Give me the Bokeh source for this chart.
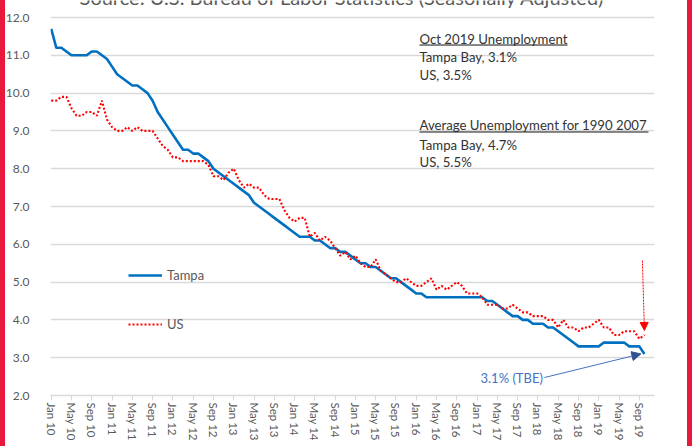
from bokeh.plotting import figure
from bokeh.models import (Range1d, FixedTicker, Label, Arrow, NormalHead, Legend,
                          LegendItem, NumeralTickFormatter, ColumnDataSource)
from bokeh.embed import file_html
from bokeh.resources import INLINE

# ---------------- data ----------------
month_names = ["Jan", "Feb", "Mar", "Apr", "May", "Jun", "Jul", "Aug", "Sep", "Oct", "Nov", "Dec"]
months = [f"{m} {y:02d}" for y in range(10, 20) for m in month_names][:118]   # Jan 10 .. Oct 19

tampa = [
    11.7, 11.2, 11.2, 11.1, 11.0, 11.0, 11.0, 11.0, 11.1, 11.1, 11.0, 10.9,   # 2010
    10.7, 10.5, 10.4, 10.3, 10.2, 10.2, 10.1, 10.0, 9.8, 9.5, 9.3, 9.1,       # 2011
    8.9, 8.7, 8.5, 8.5, 8.4, 8.4, 8.3, 8.2, 8.0, 7.9, 7.8, 7.7,               # 2012
    7.6, 7.5, 7.4, 7.3, 7.1, 7.0, 6.9, 6.8, 6.7, 6.6, 6.5, 6.4,               # 2013
    6.3, 6.2, 6.2, 6.2, 6.1, 6.1, 6.0, 5.9, 5.9, 5.8, 5.8, 5.7,               # 2014
    5.6, 5.5, 5.5, 5.4, 5.4, 5.3, 5.2, 5.1, 5.1, 5.0, 4.9, 4.8,               # 2015
    4.7, 4.7, 4.6, 4.6, 4.6, 4.6, 4.6, 4.6, 4.6, 4.6, 4.6, 4.6,               # 2016
    4.6, 4.6, 4.5, 4.5, 4.4, 4.3, 4.2, 4.1, 4.1, 4.0, 4.0, 3.9,               # 2017
    3.9, 3.9, 3.8, 3.8, 3.7, 3.6, 3.5, 3.4, 3.3, 3.3, 3.3, 3.3,               # 2018
    3.3, 3.4, 3.4, 3.4, 3.4, 3.4, 3.3, 3.3, 3.3, 3.1,                         # 2019
]

us = [
    9.8, 9.8, 9.9, 9.9, 9.6, 9.4, 9.4, 9.5, 9.5, 9.4, 9.8, 9.3,   # 2010
    9.1, 9.0, 9.0, 9.1, 9.0, 9.1, 9.0, 9.0, 9.0, 8.8, 8.6, 8.5,   # 2011
    8.3, 8.3, 8.2, 8.2, 8.2, 8.2, 8.2, 8.1, 7.8, 7.8, 7.7, 7.9,   # 2012
    8.0, 7.7, 7.5, 7.6, 7.5, 7.5, 7.3, 7.2, 7.2, 7.2, 6.9, 6.7,   # 2013
    6.6, 6.7, 6.7, 6.2, 6.3, 6.1, 6.2, 6.1, 5.9, 5.7, 5.8, 5.6,   # 2014
    5.7, 5.5, 5.4, 5.4, 5.6, 5.3, 5.2, 5.1, 5.0, 5.0, 5.1, 5.0,   # 2015
    4.9, 4.9, 5.0, 5.1, 4.8, 4.9, 4.8, 4.9, 5.0, 4.9, 4.7, 4.7,   # 2016
    4.7, 4.6, 4.4, 4.4, 4.4, 4.3, 4.3, 4.4, 4.3, 4.2, 4.2, 4.1,   # 2017
    4.1, 4.1, 4.0, 4.0, 3.8, 4.0, 3.8, 3.8, 3.7, 3.8, 3.8, 3.9,   # 2018
    4.0, 3.8, 3.8, 3.6, 3.6, 3.7, 3.7, 3.7, 3.5, 3.6,             # 2019
]

tick_labels = ["Jan 10", "May 10", "Sep 10", "Jan 11", "May 11", "Sep 11", "Jan 12", "May 12",
               "Sep 12", "Jan 13", "May 13", "Sep 13", "Jan 14", "May 14", "Sep 14", "Jan 15",
               "May 15", "Sep 15", "Jan 16", "May 16", "Sep 16", "Jan 17", "May 17", "Sep 17",
               "Jan 18", "May 18", "Sep 18", "Jan 19", "May 19", "Sep 19"]

y_ticks = [2.0, 3.0, 4.0, 5.0, 6.0, 7.0, 8.0, 9.0, 10.0, 11.0, 12.0]

title_text = "Source: U.S. Bureau of Labor Statistics (Seasonally Adjusted)"
note1 = ["Oct 2019 Unemployment", "Tampa Bay, 3.1%", "US, 3.5%"]
note2 = ["Average Unemployment for 1990 2007", "Tampa Bay, 4.7%", "US, 5.5%"]
tbe_text = "3.1% (TBE)"

# ---------------- figure ----------------
FONT = "Lato"
GRAY = "#595959"
RED = "#E8193C"
x = list(range(len(months)))
src = ColumnDataSource(dict(x=x, month=months, tampa=tampa, us=us))

# frame reaches the top edge so the (cut-off) source line can be shown above 12.0
p = figure(width=692, height=446, output_backend="svg", toolbar_location=None, title=None,
           x_range=Range1d(-0.14, 118.99), y_range=Range1d(2, 12 + 17 / 37.8),
           min_border_left=50, min_border_right=38, min_border_top=0, min_border_bottom=51)
p.outline_line_color = None
p.background_fill_color = "white"
p.border_fill_alpha = 0
# red page edges of the original document
p.styles = {"box-shadow": f"inset 5px 0 0 {RED}, inset -5px 0 0 {RED}"}

p.xgrid.visible = False
p.ygrid.grid_line_color = "#D9D9D9"
p.ygrid.grid_line_width = 1.4
p.ygrid.ticker = FixedTicker(ticks=y_ticks)

p.yaxis.ticker = FixedTicker(ticks=y_ticks)
p.yaxis.formatter = NumeralTickFormatter(format="0.0")
p.yaxis.axis_line_color = None
p.yaxis.major_tick_line_color = None
p.yaxis.minor_tick_line_color = None
p.yaxis.major_label_standoff = 15
p.yaxis.major_label_text_font = FONT
p.yaxis.major_label_text_font_size = "12px"
p.yaxis.major_label_text_color = GRAY

tick_pos = list(range(0, len(months), 4))
p.xaxis.ticker = FixedTicker(ticks=tick_pos)
p.xaxis.major_label_overrides = {t: lbl for t, lbl in zip(tick_pos, tick_labels)}
p.xaxis.major_label_orientation = "vertical"
p.xaxis.axis_line_color = "#D9D9D9"
p.xaxis.axis_line_width = 1.4
p.xaxis.major_tick_line_color = "#D9D9D9"
p.xaxis.major_tick_out = 5
p.xaxis.major_tick_in = 0
p.xaxis.minor_tick_line_color = None
p.xaxis.major_label_standoff = 2
p.xaxis.major_label_text_font = FONT
p.xaxis.major_label_text_font_size = "11.5px"
p.xaxis.major_label_text_color = GRAY

r_t = p.line("x", "tampa", source=src, line_color="#0070C0", line_width=2.6, line_join="round")
r_u = p.line("x", "us", source=src, line_color="#FF0000", line_width=2.1, line_dash="2 2")

legend = Legend(items=[LegendItem(label="Tampa", renderers=[r_t]),
                       LegendItem(label="US", renderers=[r_u])],
                location=(78, 61), orientation="vertical",
                glyph_width=34, glyph_height=20, label_height=20, spacing=29,
                padding=0, margin=0, label_standoff=5,
                label_text_font=FONT, label_text_font_size="13px", label_text_color=GRAY,
                border_line_alpha=0, background_fill_alpha=0)
p.add_layout(legend)

# ---------------- annotations ----------------
TXT = "#333333"
def lab(text, xx, yy, **kw):
    opts = dict(text_font=FONT, text_font_size="13.2px", text_color=TXT,
                text_baseline="alphabetic", text_align="left")
    opts.update(kw)
    p.add_layout(Label(x=xx, y=yy, text=text, **opts))

# source line, cut off at the top as in the original
lab(title_text, 57.45, 12.53, text_align="center", text_font_size="20px", text_color=GRAY)

for t, yy in zip(note1, [11.431, 10.966, 10.484]):
    lab(t, 72.64, yy)
for t, yy in zip(note2, [9.161, 8.632, 8.169]):
    lab(t, 72.64, yy)

# underlines
p.add_layout(Arrow(end=None, x_start=72.64, y_start=11.272, x_end=101.83, y_end=11.272,
                   line_color="#111111", line_width=1))
p.add_layout(Arrow(end=None, x_start=72.64, y_start=8.971, x_end=117.81, y_end=8.971,
                   line_color="#111111", line_width=1))

# TBE label and arrow
lab(tbe_text, 84.67, 2.455, text_color="#4472C4", text_font_size="13px")
p.add_layout(Arrow(end=NormalHead(size=9, fill_color="#2F528F", line_color="#2F528F"),
                   x_start=97.3, y_start=2.476, x_end=116.3, y_end=3.1,
                   line_color="#4472C4", line_width=1))

# red dotted arrow to the US value
p.add_layout(Arrow(end=NormalHead(size=8, fill_color="#FF0000", line_color="#FF0000"),
                   x_start=116.6, y_start=5.57, x_end=117.0, y_end=3.72,
                   line_color="#FF0000", line_width=1, line_dash="2 1"))

open("out.html", "w").write(file_html(p, INLINE))
